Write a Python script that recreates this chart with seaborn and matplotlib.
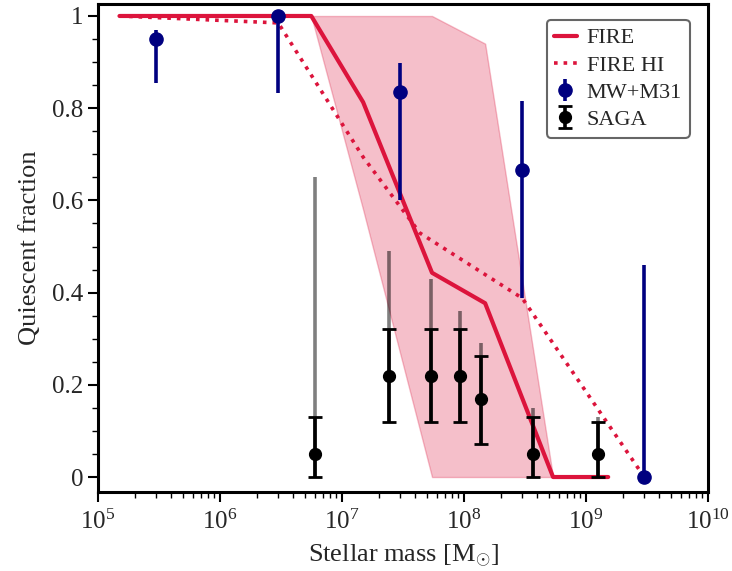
import numpy as np
import pandas as pd
import matplotlib
matplotlib.use("Agg")
import matplotlib.pyplot as plt
import seaborn as sns
from matplotlib.ticker import FixedLocator, MultipleLocator, FuncFormatter, LogLocator

# ---------------- data ----------------
fire_mass = [1.5e5, 5.6e6, 1.49e7, 5.47e7, 1.49e8, 5.37e8, 1.52e9]
fire_frac = [1.0, 1.0, 0.813, 0.443, 0.377, 0.0, 0.0]

band_mass = [5.6e6, 1.49e7, 5.47e7, 1.49e8, 5.37e8]
band_low = [1.0, 0.58, 0.0, 0.0, 0.0]
band_high = [1.0, 1.0, 1.0, 0.94, 0.0]

firehi_mass = [1.5e5, 3.0e6, 1.49e7, 4.36e7, 3.0e8, 3.0e9]
firehi_frac = [1.0, 0.985, 0.694, 0.529, 0.388, 0.0]

mw_mass = [3e5, 3e6, 3e7, 3e8, 3e9]
mw_frac = [0.95, 1.0, 0.835, 0.667, 0.0]
mw_lo = [0.855, 0.833, 0.601, 0.388, 0.0]
mw_hi = [0.97, 1.0, 0.898, 0.816, 0.46]

saga_mass = [6.0e6, 2.43e7, 5.37e7, 9.27e7, 1.38e8, 3.68e8, 1.25e9]
saga_frac = [0.05, 0.22, 0.22, 0.22, 0.17, 0.05, 0.05]
saga_lo = [0.0, 0.12, 0.12, 0.12, 0.071, 0.0, 0.0]
saga_hi = [0.13, 0.32, 0.32, 0.32, 0.262, 0.13, 0.12]
saga_hi_ext = [0.65, 0.49, 0.43, 0.36, 0.29, 0.15, 0.13]

# ---------------- style ----------------
sns.set_style("ticks")
plt.rcParams['font.family'] = ['Liberation Serif', 'DejaVu Serif']
plt.rcParams['mathtext.fontset'] = 'custom'
plt.rcParams['mathtext.rm'] = 'Liberation Serif'
plt.rcParams['mathtext.it'] = 'Liberation Serif:italic'
plt.rcParams['mathtext.bf'] = 'Liberation Serif:bold'

fig = plt.figure(figsize=(7.32, 5.71), dpi=100)
ax = fig.add_axes([98/732, 1-492/571, (708-98)/732, (492-4)/571])

crimson = '#dc143c'
navy = '#000080'

ax.fill_between(band_mass, band_low, band_high, color=crimson, alpha=0.27,
                edgecolor=crimson, linewidth=1.0, zorder=1)

# gray extended error bars
saga_f = np.array(saga_frac)
ax.errorbar(saga_mass, saga_frac,
            yerr=[saga_f - np.array(saga_lo), np.array(saga_hi_ext) - saga_f],
            fmt='none', ecolor='black', alpha=0.5, elinewidth=2.6, zorder=2)

df_fire = pd.DataFrame({'mass': fire_mass, 'frac': fire_frac})
df_hi = pd.DataFrame({'mass': firehi_mass, 'frac': firehi_frac})
sns.lineplot(data=df_fire, x='mass', y='frac', ax=ax, color=crimson, lw=3.0,
             estimator=None, sort=False, label='FIRE', zorder=3)
sns.lineplot(data=df_hi, x='mass', y='frac', ax=ax, color=crimson, lw=2.6,
             linestyle=':', estimator=None, sort=False, label='FIRE HI', zorder=3)

mw_f = np.array(mw_frac)
ax.errorbar(mw_mass, mw_frac,
            yerr=[mw_f - np.array(mw_lo), np.array(mw_hi) - mw_f],
            fmt='o', color=navy, ms=9.5, elinewidth=2.6, capsize=0,
            label='MW+M31', zorder=4)

ax.errorbar(saga_mass, saga_frac,
            yerr=[saga_f - np.array(saga_lo), np.array(saga_hi) - saga_f],
            fmt='o', color='black', ms=8.5, elinewidth=2.6, capsize=5,
            capthick=2.0, label='SAGA', zorder=5)

ax.set_xscale('log')
ax.set_xlim(1e5, 1e10)
ax.set_ylim(-0.0325, 1.026)

ax.yaxis.set_major_locator(FixedLocator([0, 0.2, 0.4, 0.6, 0.8, 1.0]))
ax.yaxis.set_minor_locator(MultipleLocator(0.05))
ax.yaxis.set_major_formatter(FuncFormatter(lambda v, p: '%g' % round(v, 2)))
ax.xaxis.set_major_locator(LogLocator(base=10, numticks=10))
ax.xaxis.set_minor_locator(LogLocator(base=10, subs=np.arange(2, 10), numticks=20))

ax.tick_params(axis='both', which='major', direction='out', length=7, width=1.5,
               labelsize=18, top=False, right=False, color='black')
ax.tick_params(axis='both', which='minor', direction='out', length=4, width=1.0,
               top=False, right=False, color='black')
ax.tick_params(axis='x', which='major', pad=6)

for sp in ax.spines.values():
    sp.set_linewidth(2.2)
    sp.set_color('black')

ax.set_xlabel(r'Stellar mass [M$_{\odot}$]', fontsize=19, labelpad=6)
ax.set_ylabel('Quiescent fraction', fontsize=19, labelpad=8)

leg = ax.legend(loc='upper right', fontsize=16, frameon=True, fancybox=True,
                framealpha=1, edgecolor='#666666', borderpad=0.35,
                handlelength=1.0, handletextpad=0.45, labelspacing=0.3,
                bbox_to_anchor=(0.988, 0.99))
leg.get_frame().set_linewidth(1.5)

fig.savefig('out.png', dpi=100)
